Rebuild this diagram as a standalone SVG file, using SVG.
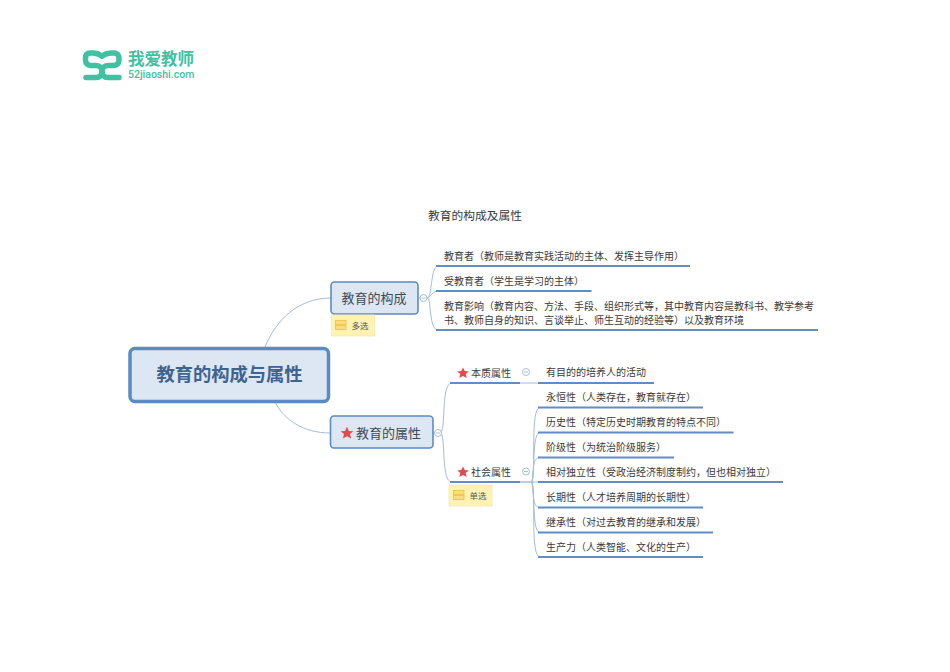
<svg xmlns="http://www.w3.org/2000/svg" width="950" height="672" viewBox="0 0 950 672">
<style>
text{font-family:"Noto Sans CJK SC","Liberation Sans",sans-serif;fill:#3a3a3a}
.t{font-size:10px}
.m{font-size:13px;text-anchor:middle;fill:#3f4a58}
.n{font-size:8.500px;fill:#555}
.box{fill:#dde6f3;stroke:#5b8bc6;stroke-width:1.600}
.u{stroke:#5f8dc4;stroke-width:2;fill:none}
.c{stroke:#a4bcd9;stroke-width:1;fill:none}
.o{fill:#fff;stroke:#9db6d6;stroke-width:.9}
.d{stroke:#9db6d6;stroke-width:.9}
.note{fill:#fff2b3;stroke:#f7e9a8;stroke-width:.8}
.bar{fill:#f9dc7c;stroke:#efbe48;stroke-width:.8}
.star{fill:#e5484d}
.lg{fill:none;stroke:#3fc1a2;stroke-width:5.500;stroke-linecap:round;stroke-linejoin:round}
</style>
<defs>
<polygon id="star" class="star" points="0,-6.200 1.900,-2.100 6.400,-1.800 3,1.100 4.100,5.600 0,3.200 -4.100,5.600 -3,1.100 -6.400,-1.800 -1.900,-2.100"/>
<g id="bars"><rect class="bar" x="0" y="0" width="10.500" height="4"/><rect class="bar" x="0" y="5" width="10.500" height="4"/></g>
</defs>
<rect width="950" height="672" fill="#fff"/>
<g id="logo">
<path class="lg" d="M102 56C99 54 97 53 93 53H90C87 53 85.500 55 85.500 58V60C85.500 64 88 65.500 91 65.500H96C100 65.500 102 68 102 71.500C102 75 100 77.500 96 77.500H86"/>
<path class="lg" d="M102 56C105 54 107 53 111 53H114C117 53 119 55 119 58V60C119 64 116.500 65.500 113.500 65.500H108C104 65.500 102 68 102 71.500C102 75 104 77.500 108 77.500H119"/>
<text x="128" y="65" style="font-size:16.500px;font-weight:700;fill:#3fc1a2">我爱教师</text>
<text x="128" y="78" style="font-size:10.500px;font-weight:500;fill:#3fc1a2;font-family:'Roboto','Liberation Sans',sans-serif">52jiaoshi.com</text>
</g>
<text id="title" x="475" y="220" text-anchor="middle" style="font-size:11.750px">教育的构成及属性</text>
<g id="connectors">
<path class="c" d="M265 347C276 320 298 298 331 298"/>
<path class="c" d="M275 402C284 420 304 433 330 433"/>
<path class="c" d="M418 298H428M428 298C432 294 431 266 438 266M428 298C431 296 433 291 438 291M428 298C431 300 429 330 438 330"/>
<path class="c" d="M433 433H441M441 433C446 425 441 383 452 383M441 433C446 441 441 482 452 482"/>
<path class="c" d="M520 383H538"/>
<path class="c" d="M520 482H532M532 482C536 470 530 407.500 540 407.500M532 482C535 470 532 432.500 540 432.500M532 482C534 470 532 457.500 540 457.500M520 482H540M532 482C534 494 532 507.500 540 507.500M532 482C535 494 532 532.500 540 532.500M532 482C536 494 530 557 540 557"/>
<path class="u" d="M436 266H690M436 291H591.500M436 330H818"/>
<path class="u" d="M450 383H520M538 383H654M450 482H520M538 407.500H703M538 432.500H733.500M538 457.500H674M538 482H783M538 507.500H703M538 532.500H713M538 557H703"/>
</g>
<g id="root">
<rect x="130" y="348.500" width="198.500" height="53" rx="5" fill="#dde6f3" stroke="#5b8bc6" stroke-width="3.500"/>
<text x="229.500" y="381" text-anchor="middle" style="font-size:18.300px;font-weight:700;fill:#3d6490">教育的构成与属性</text>
</g>
<g id="n-goucheng">
<rect class="box" x="331" y="282" width="87" height="32" rx="3.500"/>
<text class="m" x="374" y="303">教育的构成</text>
<circle class="o" cx="423.500" cy="298" r="3.500"/><path class="d" d="M421.500 298H425.500"/>
</g>
<g id="note-duoxuan">
<rect class="note" x="331.500" y="315" width="43" height="21"/>
<use href="#bars" x="335.500" y="320.500"/>
<text class="n" x="351.500" y="328.500">多选</text>
</g>
<g id="n-shuxing">
<rect class="box" x="330.500" y="416" width="102.500" height="32" rx="3.500"/>
<use href="#star" x="347" y="433"/>
<text class="m" x="356" y="437.500" style="text-anchor:start">教育的属性</text>
<circle class="o" cx="438" cy="433" r="3.500"/><path class="d" d="M436 433H440"/>
</g>
<g id="l1"><text class="t" x="444" y="259.500">教育者（教师是教育实践活动的主体、发挥主导作用）</text></g>
<g id="l2"><text class="t" x="444" y="285">受教育者（学生是学习的主体）</text></g>
<g id="l3"><text class="t" x="444" y="309.500">教育影响（教育内容、方法、手段、组织形式等，其中教育内容是教科书、教学参考</text><text class="t" x="444" y="324">书、教师自身的知识、言谈举止、师生互动的经验等）以及教育环境</text></g>
<g id="benzhi">
<use href="#star" x="463" y="373" transform="translate(463 373) scale(.9) translate(-463 -373)"/>
<text class="t" x="471" y="376.500">本质属性</text>
<circle class="o" cx="526" cy="372" r="3.500"/><path class="d" d="M524 372H528"/>
</g>
<g id="shehui">
<use href="#star" x="463" y="472" transform="translate(463 472) scale(.9) translate(-463 -472)"/>
<text class="t" x="471" y="476">社会属性</text>
<circle class="o" cx="526" cy="471.500" r="3.500"/><path class="d" d="M524 471.500H528"/>
</g>
<g id="note-danxuan">
<rect class="note" x="449" y="485" width="43" height="21"/>
<use href="#bars" x="453.500" y="490.500"/>
<text class="n" x="469.500" y="498.500">单选</text>
</g>
<g id="items">
<text class="t" x="546" y="376">有目的的培养人的活动</text>
<text class="t" x="546" y="401">永恒性（人类存在，教育就存在）</text>
<text class="t" x="546" y="426">历史性（特定历史时期教育的特点不同）</text>
<text class="t" x="546" y="451">阶级性（为统治阶级服务）</text>
<text class="t" x="546" y="476">相对独立性（受政治经济制度制约，但也相对独立）</text>
<text class="t" x="546" y="501">长期性（人才培养周期的长期性）</text>
<text class="t" x="546" y="526">继承性（对过去教育的继承和发展）</text>
<text class="t" x="546" y="550.500">生产力（人类智能、文化的生产）</text>
</g>
</svg>
